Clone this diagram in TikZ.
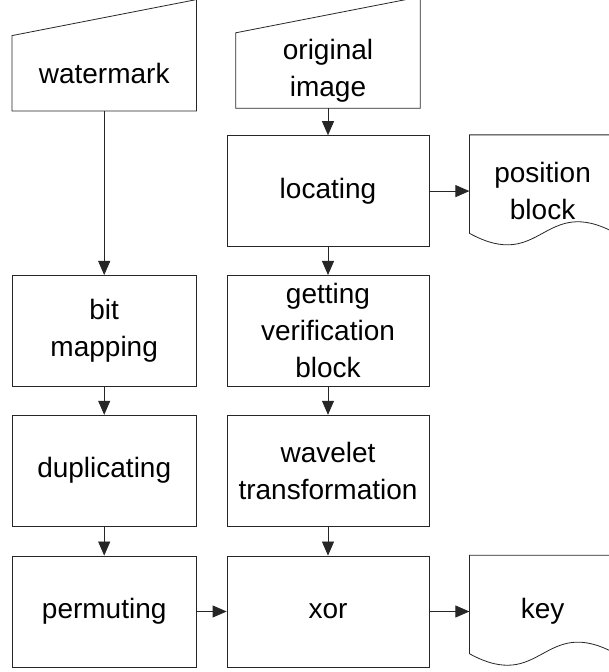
\documentclass[tikz,border=0pt]{standalone}
\usepackage{fontspec}
\setmainfont{Liberation Sans}
\usetikzlibrary{positioning, arrows.meta}
\tikzset{
>={Triangle[length=14pt, width=12pt]}, % filled arrow heads
every node/.style={font=\fontsize{28}{37}\selectfont, align=center, inner sep=0pt},
line/.style={draw=black!85, line width=0.8pt},
process/.style={line, minimum width=202pt, minimum height=111pt},
narrow/.style={process, minimum width=184pt},
input/.style={minimum width=184pt, minimum height=75pt}, % lower part of a manual input
document/.style={minimum width=146pt, minimum height=112pt}, % outline drawn below
}
\begin{document}
\begin{tikzpicture}[x=1pt, y=1pt]
\useasboundingbox (0,0) rectangle (609,672);
% right column
\node[process] at (328,60.5) (xor) {xor};
\node[process, above=29pt of xor] (wavelet) {wavelet\\transformation};
\node[process, above=28pt of wavelet] (verify) {getting\\verification\\block};
\node[process, above=28pt of verify] (locating) {locating};
\node[input, above=27pt of locating] (original) {original\\image};
\node[document, right=40pt of locating] (position) {position\\block};
\node[document, right=40pt of xor] (key) {key};
% left column
\node[narrow, left=30pt of xor] (permuting) {permuting};
\node[narrow, above=29pt of permuting] (duplicating) {duplicating};
\node[narrow, above=28pt of duplicating] (mapping) {bit\\mapping};
\node[input, above=164pt of mapping] (watermark) {watermark};
% manual input outlines
\foreach \n in {watermark, original}
  \draw[line] (\n.south west) -- (\n.north west) -- ([yshift=36pt]\n.north east) -- (\n.south east) -- cycle;
% document outlines
\foreach \n in {position, key}
  \draw[line] ([yshift=14pt]\n.south west) -- (\n.north west) -- (\n.north east) -- ([yshift=14pt]\n.south east)
    .. controls +(-73pt,40pt) and +(73pt,-40pt) .. ([yshift=14pt]\n.south west);
\draw[line, ->] (watermark) -- (mapping);
\draw[line, ->] (mapping) -- (duplicating);
\draw[line, ->] (duplicating) -- (permuting);
\draw[line, ->] (original) -- (locating);
\draw[line, ->] (locating) -- (verify);
\draw[line, ->] (verify) -- (wavelet);
\draw[line, ->] (wavelet) -- (xor);
\draw[line, ->] (locating) -- (position);
\draw[line, ->] (permuting) -- (xor);
\draw[line, ->] (xor) -- (key);
\end{tikzpicture}
\end{document}
